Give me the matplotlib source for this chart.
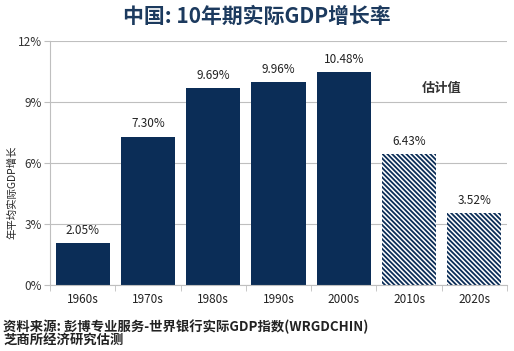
import matplotlib.pyplot as plt
import numpy as np

plt.rcParams['font.family'] = ['Noto Sans CJK SC', 'DejaVu Sans']
plt.rcParams['hatch.linewidth'] = 1.3

decades = ['1960s', '1970s', '1980s', '1990s', '2000s', '2010s', '2020s']
growth = [2.05, 7.30, 9.69, 9.96, 10.48, 6.43, 3.52]
is_estimate = [False, False, False, False, False, True, True]
yticks = [0, 3, 6, 9, 12]

NAVY = '#0b2d57'
GRID = '#bfbfbf'

fig = plt.figure(figsize=(5.14, 3.51), dpi=100)
ax = fig.add_axes([50 / 514, 1 - 285 / 351, 457 / 514, 244 / 351])

x = np.arange(len(decades))
for xi, v, est in zip(x, growth, is_estimate):
    if est:
        ax.bar(xi, v, 0.83, facecolor='white', edgecolor=NAVY, hatch='\\' * 7,
               linewidth=0, zorder=2)
    else:
        ax.bar(xi, v, 0.83, color=NAVY, zorder=2)
    ax.text(xi, v + 0.3, f'{v:.2f}%', ha='center', va='bottom', fontsize=8.5,
            color='#222222')

# estimate note, between the 2010s and 2020s columns
ax.text(5.5, 9.7, '估计值', ha='center', va='center', fontsize=9.5,
        fontweight='bold', color='#333333')

ax.set_xlim(-0.5, len(decades) - 0.5)
ax.set_ylim(0, 12)
ax.set_yticks(yticks)
ax.set_yticklabels([f'{t}%' for t in yticks], fontsize=8.5, color='#333333')
ax.set_xticks(x)
ax.set_xticklabels(decades, fontsize=8.5, color='#222222')
ax.set_xticks(np.arange(len(decades) + 1) - 0.5, minor=True)
ax.tick_params(axis='x', which='major', length=0, pad=6)
ax.tick_params(axis='x', which='minor', length=4, color=GRID, direction='out')
ax.tick_params(axis='y', length=4, color=GRID, pad=2)
ax.grid(axis='y', color=GRID, linewidth=0.8, zorder=0)
ax.set_axisbelow(True)
for s in ['top', 'right']:
    ax.spines[s].set_visible(False)
for s in ['left', 'bottom']:
    ax.spines[s].set_color(GRID)
    ax.spines[s].set_linewidth(0.8)

fig.text(12 / 514, 1 - 192 / 351, '年平均实际GDP增长', rotation=90, ha='center',
         va='center', fontsize=7.5, color='#222222')
fig.text(0.5, 1 - 16 / 351, '中国: 10年期实际GDP增长率', ha='center', va='center',
         fontsize=15, fontweight='bold', color='#1c3a5e')
fig.text(3 / 514, 1 - 327 / 351, '资料来源: 彭博专业服务-世界银行实际GDP指数(WRGDCHIN)',
         ha='left', va='center', fontsize=9.6, fontweight='bold', color='#222222')
fig.text(3 / 514, 1 - 341 / 351, '芝商所经济研究估测', ha='left', va='center',
         fontsize=9.6, fontweight='bold', color='#222222')

fig.savefig('out.png', dpi=100, facecolor='white')
